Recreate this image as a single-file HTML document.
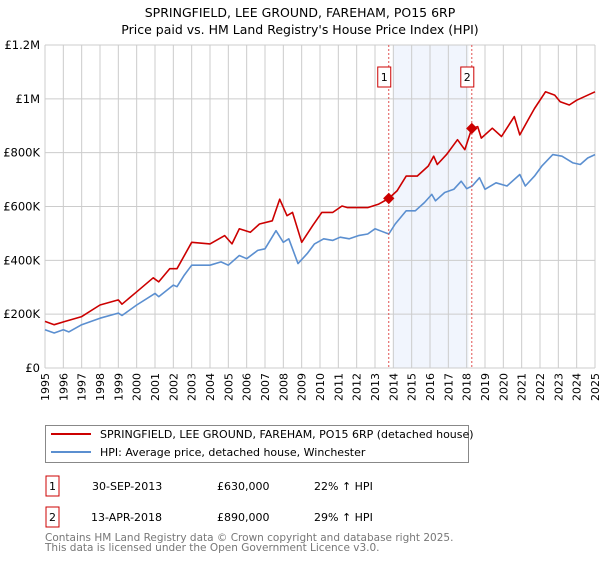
<!DOCTYPE html>
<html><head><meta charset="utf-8"><style>
body{margin:0;background:#fff;font-family:"Liberation Sans","DejaVu Sans",sans-serif;}
svg text{font-family:"DejaVu Sans","Liberation Sans",sans-serif;}
</style></head><body>
<svg id="c" width="600" height="560" xmlns="http://www.w3.org/2000/svg">
<text x="300" y="17" text-anchor="middle" font-size="12.5" fill="#000">SPRINGFIELD, LEE GROUND, FAREHAM, PO15 6RP</text>
<text x="300" y="34" text-anchor="middle" font-size="12.5" fill="#000">Price paid vs. HM Land Registry's House Price Index (HPI)</text>
<g id="grid"></g><g id="marks"></g><g id="axes"></g>
<g>
<rect x="45.5" y="425.5" width="423" height="37" fill="#fff" stroke="#888"/>
<line x1="51" y1="434" x2="91" y2="434" stroke="#cc0000" stroke-width="2"/>
<text x="100" y="438" font-size="11">SPRINGFIELD, LEE GROUND, FAREHAM, PO15 6RP (detached house)</text>
<line x1="51" y1="452" x2="91" y2="452" stroke="#5b8fd0" stroke-width="2"/>
<text x="100" y="456" font-size="11">HPI: Average price, detached house, Winchester</text>
</g>
<g>
<rect x="46" y="476" width="13" height="20" fill="#fff" stroke="#cc0000"/>
<text x="52.5" y="490" font-size="11" text-anchor="middle">1</text>
<text x="92" y="490" font-size="11">30-SEP-2013</text>
<text x="217" y="490" font-size="11">£630,000</text>
<text x="314" y="490" font-size="11">22% ↑ HPI</text>
</g>
<g>
<rect x="46" y="507" width="13" height="20" fill="#fff" stroke="#cc0000"/>
<text x="52.5" y="521" font-size="11" text-anchor="middle">2</text>
<text x="91" y="521" font-size="11">13-APR-2018</text>
<text x="217" y="521" font-size="11">£890,000</text>
<text x="314" y="521" font-size="11">29% ↑ HPI</text>
</g>
<text x="45" y="541" font-size="10.5" fill="#777">Contains HM Land Registry data © Crown copyright and database right 2025.</text>
<text x="45" y="551" font-size="10.5" fill="#777">This data is licensed under the Open Government Licence v3.0.</text>
</svg>
<script>
const yTicks=[0,200,400,600,800,1000,1200];
const yTickLabels=["£0","£200K","£400K","£600K","£800K","£1M","£1.2M"];
const years=[1995,1996,1997,1998,1999,2000,2001,2002,2003,2004,2005,2006,2007,2008,2009,2010,2011,2012,2013,2014,2015,2016,2017,2018,2019,2020,2021,2022,2023,2024,2025];
const hpiYears=[1995.0,1995.5,1996.0,1996.3,1997.0,1998.0,1999.0,1999.2,2000.0,2001.0,2001.2,2002.0,2002.2,2002.6,2003.0,2004.0,2004.6,2005.0,2005.6,2006.0,2006.6,2007.0,2007.6,2008.0,2008.3,2008.8,2009.3,2009.7,2010.2,2010.7,2011.1,2011.6,2012.1,2012.6,2013.0,2013.75,2014.1,2014.7,2015.2,2015.7,2016.1,2016.3,2016.8,2017.3,2017.7,2018.0,2018.3,2018.7,2019.0,2019.6,2020.2,2020.9,2021.2,2021.7,2022.1,2022.7,2023.2,2023.8,2024.2,2024.6,2025.0];
const hpiValues=[142,130,142,134,161,185,204,195,234,277,265,308,302,345,382,382,394,382,418,406,437,443,510,467,480,388,425,461,480,474,486,480,492,498,517,498,535,584,584,615,645,621,652,664,694,666,676,707,664,688,676,719,676,713,750,793,787,762,756,780,793];
const propYears=[1995.0,1995.5,1996.1,1997.0,1998.0,1999.0,1999.2,2000.0,2000.9,2001.2,2001.8,2002.2,2003.0,2004.0,2004.8,2005.2,2005.6,2006.2,2006.7,2007.4,2007.8,2008.2,2008.5,2009.0,2009.6,2010.1,2010.7,2011.2,2011.5,2012.0,2012.6,2013.2,2013.75,2014.2,2014.7,2015.3,2015.9,2016.2,2016.4,2016.9,2017.5,2017.9,2018.28,2018.6,2018.8,2019.4,2019.9,2020.6,2020.9,2021.4,2021.7,2022.3,2022.8,2023.1,2023.6,2024.0,2025.0];
const propValues=[173,161,173,191,234,253,237,283,335,320,369,369,467,461,492,461,517,504,535,547,627,566,578,467,529,578,578,602,596,596,596,609,630,658,713,713,750,787,756,793,848,811,890,897,854,891,860,934,866,928,964,1026,1014,989,977,995,1026];
const saleYears=[2013.75,2018.28];
const saleValues=[630,890];
const saleLabels=["1","2"];
const NS="http://www.w3.org/2000/svg";
const X0=45,X1=595,Y0=368,Y1=45;
const xs=y=>X0+(y-1995)/30*(X1-X0);
const ys=v=>Y0-v/1200*(Y0-Y1);
function mk(t,a,p){const e=document.createElementNS(NS,t);for(const k in a)e.setAttribute(k,a[k]);p.appendChild(e);return e;}
const grid=document.getElementById('grid'),marks=document.getElementById('marks'),axes=document.getElementById('axes');
const shade=mk('rect',{x:xs(2014),y:Y1,width:xs(2018.1)-xs(2014),height:Y0-Y1,fill:'#eef3fc',opacity:0.8},grid);


years.forEach(y=>{const l=mk('line',{x1:xs(y),x2:xs(y),y1:Y1,y2:Y0,stroke:'#cccccc'},grid);


const t=mk('text',{transform:`translate(${xs(y)+4},${Y0+5}) rotate(-90)`,'text-anchor':'end','font-size':11},axes);t.textContent=y;

});
yTicks.forEach((v,i)=>{const l=mk('line',{x1:X0,x2:X1,y1:ys(v),y2:ys(v),stroke:'#cccccc'},grid);


const t=mk('text',{x:40,y:ys(v)+4,'text-anchor':'end','font-size':11.5},axes);t.textContent=yTickLabels[i];

});
function line(xa,va,col,name){const d=xa.map((x,i)=>(i?'L':'M')+xs(x).toFixed(1)+','+ys(va[i]).toFixed(1)).join('');
const p=mk('path',{d:d,fill:'none',stroke:col,'stroke-width':1.6,'stroke-linejoin':'round'},marks);

}
line(hpiYears,hpiValues,'#5b8fd0','hpi-line');
line(propYears,propValues,'#cc0000','property-line');
saleYears.forEach((y,i)=>{const x=xs(y);
const l=mk('line',{x1:x,x2:x,y1:Y1,y2:Y0,stroke:'#e05050','stroke-dasharray':'2,2'},marks);


const dm=mk('rect',{x:x-4,y:ys(saleValues[i])-4,width:8,height:8,fill:'#cc0000',transform:`rotate(45 ${x} ${ys(saleValues[i])})`},marks);


const g=mk('g',{},marks);


mk('rect',{x:x-11,y:67,width:13,height:20,fill:'#fff',stroke:'#cc0000'},g);
const t=mk('text',{x:x-4.5,y:81,'text-anchor':'middle','font-size':11},g);t.textContent=saleLabels[i];});
</script>
</body></html>
